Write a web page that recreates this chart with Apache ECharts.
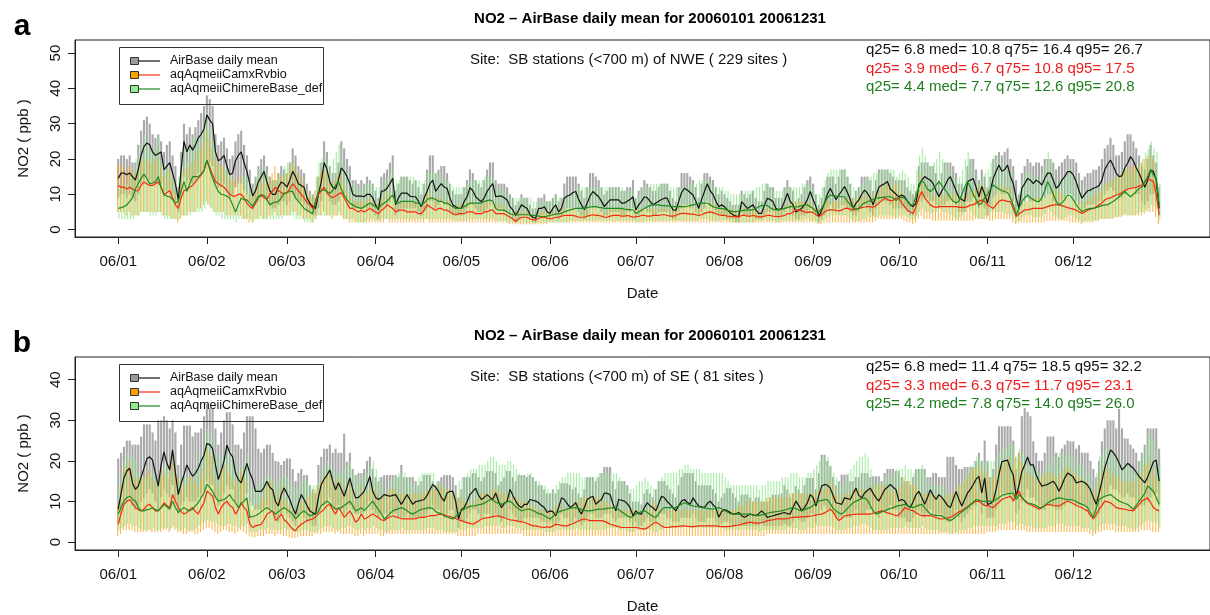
<!DOCTYPE html>
<html>
<head>
<meta charset="UTF-8">
<title>NO2 AirBase daily mean 2006</title>
<script src="https://cdn.jsdelivr.net/npm/echarts@6.0.0/dist/echarts.min.js"></script>
<style>
  html, body { margin: 0; padding: 0; background: #fff; }
  #main { width: 1210px; height: 615px; }
</style>
</head>
<body>
<div id="main"></div>
<script>
// x axis: day of year 2006 (0 = 1 Jan), ticks at the first of each month
var monthStarts = [0, 31, 59, 90, 120, 151, 181, 212, 243, 273, 304, 334];
var monthLabels = ['06/01', '06/02', '06/03', '06/04', '06/05', '06/06', '06/07', '06/08', '06/09', '06/10', '06/11', '06/12'];
var yTicksA = [0, 10, 20, 30, 40, 50];
var yTicksB = [0, 10, 20, 30, 40];

var legendNames = ['AirBase daily mean', 'aqAqmeiiCamxRvbio', 'aqAqmeiiChimereBase_def'];
var statsA = ['q25= 6.8 med= 10.8 q75= 16.4 q95= 26.7', 'q25= 3.9 med= 6.7 q75= 10.8 q95= 17.5', 'q25= 4.4 med= 7.7 q75= 12.6 q95= 20.8'];
var statsB = ['q25= 6.8 med= 11.4 q75= 18.5 q95= 32.2', 'q25= 3.3 med= 6.3 q75= 11.7 q95= 23.1', 'q25= 4.2 med= 7.8 q75= 14.0 q95= 26.0'];

// ---------- panel a : NWE (229 sites) ----------
var obsMeanA = [
  14.5,16,16,15.5,16,15,14,17,21,23.5,24.5,24,22,21,21.5,22,17,18,19,16,13,8.5,17,25,22,24,22.5,24,26,27,28.5,
  32.5,31,30,22,19.5,20,21,18,15.5,16,19.5,21,22,19,16.5,13,9.5,11,13.5,15,16.5,13.5,11,10,10,12,13.5,13,
  12,14,16.5,15,13,12.5,12,9,7.5,6.5,6,10,13.5,19,17,13.5,12,11.5,14,17.5,16.5,15,13,10,9.5,9.5,9.5,9.3,10,10,9,
  7,5.6,10.8,11,11.7,13,14.5,7,9,10.3,10.3,10.3,9.5,9.3,9.3,8,6.5,9,10.8,13,14,10.8,12,13,12,11.7,8.9,7,6.5,6,
  6,8,9.3,11.9,11,9.3,8.5,7.9,9,10.8,12,13,9.3,9.5,9.5,9,8.4,6.5,5.6,4,5.5,7,6.5,6,4.2,3.5,3.2,6,6,6.5,5,
  4.6,6,7,5,6,8.9,9.5,9.8,10.5,10.8,8.5,7,5.6,7.5,9.5,10.8,10,9.3,8,6.5,7.5,8.4,8.4,8.4,8.4,7.5,7.5,8,8.5,9.3,
  5.6,7,8,9.3,9,8,7,7.5,8,8.5,8.9,8.9,7,5.6,5.4,8,10.5,11.7,11.2,10.5,9.8,8,6,8.5,10.8,13,11,10,8,6.5,7,
  6.5,5.6,4.8,4.2,3.8,3.7,7.9,7,6,6.5,7,5.5,4.6,4.6,7,8.9,8.5,7.9,6,5.6,6,8,10.3,8,7,5,5.5,6,7,8.5,10.8,
  8.5,6.5,3.7,5.5,7.5,10,11.7,10,8.5,9.8,11,12.2,10.5,8.5,6,7.5,8.4,10,11.2,10.3,9,7,9.5,12,12.6,13,13.6,11.5,10.8,10,
  9.3,9.8,9.3,8,7,6.5,7.5,12.6,14,15,14.5,14,13,11,9.3,11,12.2,14,15,13,11,9,8.5,8,13.6,14,14.5,12,9.3,12.2,10,
  7.5,11,14.5,16.5,18.3,16.5,17,18.3,15,13,9,6,11.7,13,14.5,14,13,14,13.5,12.6,14.5,16,16,14,11.7,12.5,14,15,16.4,16.4,
  15.5,13.6,11,8.9,10,11,11.2,11.7,12,12.5,14,17,18.5,19.7,18,16,15,15.2,17.5,18.8,20.7,19.5,17.5,16,14,12,14,16.9,16.5,14,6
];
var obsHighA = [
  20,21,21,20,21,19,19,24,28,31,32,30,27,26,27,25,22,24,25,21,18,12,22,30,27,29,27,29,31,33,35,
  38,37,35,27,24,25,26,23,20,21,25,27,28,24,21,17,13,15,18,20,21,18,15,14,14,16,18,17,
  16,19,23,21,18,17,16,13,11,10,9,15,19,25,22,18,16,16,19,25,23,20,18,14,14,13,14,13,15,14,13,
  11,9,15,16,17,19,21,11,13,15,15,15,14,13,14,12,10,13,17,21,21,16,17,18,18,16,13,11,10,10,
  10,12,14,17,16,14,13,12,14,17,19,19,14,13,13,13,12,10,9,7,8,10,9,9,7,6,6,9,9,10,8,
  8,9,10,8,9,13,15,15,15,15,13,11,9,12,16,16,15,14,12,10,11,12,12,12,12,11,11,12,12,14,
  9,11,12,14,13,12,11,11,12,13,13,13,11,9,8,12,16,16,16,15,14,12,9,13,16,16,15,14,12,10,11,
  10,9,8,7,7,7,11,10,9,10,11,9,8,8,11,13,12,12,9,9,9,12,14,12,11,8,9,10,12,14,15,
  13,10,7,9,12,15,15,15,13,15,17,17,15,13,9,11,12,15,15,15,14,11,14,17,17,17,17,16,15,14,
  14,14,14,12,11,10,11,18,19,19,19,18,18,16,14,16,19,19,19,18,16,13,13,12,18,20,20,17,14,17,15,
  12,15,20,21,22,21,22,23,20,18,14,10,16,18,20,19,18,19,19,18,20,20,20,19,17,18,19,20,21,20,
  20,19,16,14,15,16,16,17,17,18,20,23,24,26,24,21,21,22,25,27,27,25,23,21,18,17,20,24,21,19,12
];
var obsLowA = [
  9,10,10,9,10,9,8,10,13,14,15,14,13,13,13,13,10,11,11,10,8,5,10,15,13,14,13,14,16,16,17,
  20,19,18,13,12,12,13,11,9,10,12,13,13,11,10,8,6,7,8,9,10,8,7,6,6,7,8,8,
  7,8,10,9,8,8,7,5,5,4,4,6,8,11,10,8,7,7,8,11,10,9,8,6,6,6,6,6,6,6,5,
  4,3,6,7,7,8,9,4,5,6,6,6,6,6,6,5,4,5,6,8,8,6,7,8,7,7,5,4,4,4,
  4,5,6,7,7,6,5,5,5,6,7,8,6,6,6,5,5,4,3,2,3,4,4,4,3,2,2,4,4,4,3,
  3,4,4,3,4,5,6,6,6,6,5,4,3,4,6,6,6,6,5,4,4,5,5,5,5,4,4,5,5,6,
  3,4,5,6,5,5,4,4,5,5,5,5,4,3,3,5,6,7,7,6,6,5,4,5,6,8,7,6,5,4,4,
  4,3,3,3,2,2,5,4,4,4,4,3,3,3,4,5,5,5,4,3,4,5,6,5,4,3,3,4,4,5,6,
  5,4,2,3,4,6,7,6,5,6,7,7,6,5,4,4,5,6,7,6,5,4,6,7,8,8,8,7,6,6,
  6,6,6,5,4,4,4,8,8,9,9,8,8,7,6,7,7,8,9,8,7,5,5,5,8,8,9,7,6,7,6,
  4,7,9,10,11,10,10,11,9,8,5,4,7,8,9,8,8,8,8,8,9,10,10,8,7,7,8,9,10,10,
  9,8,7,5,6,7,7,7,7,8,8,10,11,12,11,10,9,9,10,11,12,12,10,10,8,7,8,10,10,8,4
];
var camxMeanA = [
  12.5,12,12,11.5,12,11.5,11,11,12.5,13.5,13,12.5,12.5,13,13.5,12,9.8,10.5,11,9,7,6,9,11,11.5,12,12.5,13.5,14.5,15.5,16.7,
  19.7,17.6,15.5,13.6,13,12.5,12,11,10,9.5,9.5,10,10,9,7.4,6.5,6,7.5,9,10,9,8.5,10,11,12,11,10.5,10,
  10.5,11.5,13,12,11,10,9,7.7,7,6,7.5,10,11,12,10.5,9.5,9,9.5,10,10.5,9,7.5,6,6,5.5,5,5.5,5,5.5,6,5.5,
  5,4.5,5.5,6,7,6.5,6,5,5.5,5.5,5.5,5,5,5,5,4.5,4.5,5.5,7,6.5,6,5.5,6,6,5.5,5.5,5,4.5,4.2,4.5,
  4.5,4.5,5,5,5,4.5,4.5,4.5,5,5,5.5,5.5,4.5,4.5,4.5,4.5,4,3.5,3,2.3,3,3.5,3.5,3.5,3,2.8,2.7,3.2,3.5,3.5,3.2,
  3,3.2,3.5,3.5,3.8,4,4,4,4,3.8,3.5,3.5,3.5,3.8,4,4.2,4,4,3.8,3.5,3.5,3.8,4,4,4,3.8,3.8,4,3.8,3.5,
  3.7,3.7,4,4,3.8,3.8,4,4,4,4.2,4.2,4,3.8,3.8,4,4.4,4.6,4.6,4.5,4.4,4.4,4.2,4,4.2,4.6,4.8,5,4.8,4.5,4.2,4,
  4,3.8,3.7,3.7,3.6,3.6,4,4,3.8,3.8,4,3.8,3.6,3.6,3.8,4,4,3.8,3.7,3.7,3.8,4,4.5,4.5,5,5.5,5.6,5.3,5,4.8,5,
  4.8,4.2,3.7,4.2,5,5.5,5.6,5.6,5.4,5.3,5.5,6,6,5.8,5.5,5.8,6,6.2,6.4,6.5,6.5,6.3,6.8,7.5,8.2,8.9,8.5,8.2,8.3,8.9,
  8.9,7.5,6.5,5.5,5,4.6,6.5,9,10.8,9,8,7,6.5,6.3,6.5,6.5,6.5,6.5,6.5,6.5,6.5,6.3,6.3,6.3,6.5,7,7,7.5,8,8.4,8,
  7,6.5,6,7,8,8.4,8.2,8,7.9,6,3.7,4.5,5,5.6,5.6,5.8,6,6,6,6,6.2,6.5,6.8,7,7,7,6.8,6.5,6.2,6,
  5.8,5.5,5,4.6,5,5.5,5.8,6,6.5,7,7.5,8.4,8.8,9,9.4,9.8,10,10.5,11,11.5,11.7,11.8,12,12.3,12.6,13.5,14.5,14,13.6,10,4.2
];
var camxHighA = [
  19,18,18,17,18,17,16,16,19,20,20,19,19,20,20,18,15,16,17,14,11,9,14,17,17,18,19,20,22,23,25,
  28,26,23,20,19,18,18,16,15,14,14,15,15,13,11,10,9,11,13,15,13,13,15,16,18,16,15,15,
  16,17,19,18,16,15,13,11,10,9,11,15,16,18,16,14,13,14,15,16,13,11,9,9,8,8,8,8,8,9,8,
  8,7,8,9,11,10,9,8,8,8,8,8,8,8,8,7,7,8,11,10,9,8,9,9,8,8,8,7,6,7,
  7,7,8,8,8,7,7,7,8,8,8,8,7,7,7,7,6,5,5,4,5,5,5,5,5,4,4,5,5,5,5,
  5,5,5,5,6,6,6,6,6,6,5,5,5,6,6,6,6,6,6,5,5,6,6,6,6,6,6,6,6,5,
  6,6,6,6,6,6,6,6,6,6,6,6,6,6,6,7,7,7,7,7,7,6,6,6,7,7,8,7,7,6,6,
  6,6,6,6,5,5,6,6,6,6,6,6,5,5,6,6,6,6,6,6,6,6,7,7,8,8,8,8,8,7,8,
  7,6,6,6,8,8,8,8,8,8,8,9,9,9,8,9,9,9,10,10,10,9,10,11,12,13,13,12,12,13,
  13,11,10,8,8,7,10,13,16,13,12,11,10,9,10,10,10,10,10,10,10,9,9,9,10,11,11,11,12,13,12,
  11,10,9,11,12,13,12,12,12,9,6,7,8,8,8,9,9,9,9,9,9,10,10,11,11,11,10,10,9,9,
  9,8,8,7,8,8,9,9,10,11,11,13,13,14,14,15,15,16,17,17,18,18,18,18,19,20,21,21,20,15,7
];
var camxLowA = [
  5,5,5,4,5,4,4,4,5,5,5,5,5,5,5,5,4,4,4,3,3,2,3,4,4,5,5,5,6,6,7,
  8,7,6,5,5,5,5,4,4,4,4,4,4,3,3,2,2,3,3,4,3,3,4,4,5,4,4,4,
  4,4,5,5,4,4,3,3,3,2,3,4,4,5,4,4,3,4,4,4,3,3,2,2,2,2,2,2,2,2,2,
  2,2,2,2,3,2,2,2,2,2,2,2,2,2,2,2,2,2,3,2,2,2,2,2,2,2,2,2,2,2,
  2,2,2,2,2,2,2,2,2,2,2,2,2,2,2,2,2,1.5,1.5,1.5,1.5,1.5,1.5,1.5,1.5,1.5,1.5,1.5,1.5,1.5,1.5,
  2,2,2,2,2,2,2,2,2,2,2,2,2,2,2,2,2,2,2,2,2,2,2,2,2,2,2,2,2,2,
  2,2,2,2,2,2,2,2,2,2,2,2,2,2,2,2,2,2,2,2,2,2,2,2,2,2,2,2,2,2,2,
  2,2,2,2,2,2,2,2,2,2,2,2,2,2,2,2,2,2,2,2,2,2,2,2,2,2,2,2,2,2,2,
  2,2,1.5,1.5,2,2,2,2,2,2,2,2,2,2,2,2,2,2,2,2,2,2,2.5,3,3,3,3,3,3,3,
  3,3,2.5,2,2,1.5,2,3,4,3,3,3,2.5,2.5,2.5,2.5,2.5,2.5,2.5,2.5,2.5,2.5,2.5,2.5,2.5,2.5,2.5,3,3,3,3,
  3,2.5,2.5,3,3,3,3,3,3,2,1.5,2,2,2,2,2,2,2,2,2,2,2.5,2.5,2.5,2.5,2.5,2.5,2.5,2.5,2,
  2,2,2,1.5,2,2,2,2,2.5,2.5,3,3,3,3,3,3.5,3.5,3.5,4,4,4,4,4,4,4,4.5,5,5,5,3.5,1.5
];
var chimMeanA = [
  6,6.2,6.5,7,8,9,11.5,13,14.5,15.7,14.5,13,13.2,13.5,15,12,9.8,9.5,9.3,8.5,7.5,8,11,13.6,10.8,13,15,15,15,15.8,16.7,
  19.7,17,14.5,12.5,10.8,10,9.8,9.5,8.9,7,5,7,8.9,8.5,8.4,7.5,6.5,8,9.4,9.6,9.8,8.5,7,7.5,7.8,7.9,9,10.3,
  10.5,10.8,10.8,8.9,8,7,6,5.5,5,4.5,8,10.8,11,11.3,10.8,10.3,11,12.5,13.6,11.5,9.8,8.5,7.5,7,6.5,6.2,6,6.5,7,7.5,7,
  6.5,6,7,7.5,8,9,9.8,7.5,7.5,8,8,8,8,8,7.5,7.5,7,7.5,8.5,8.9,8.9,8.5,8,8,7.5,7.5,7,6.5,6,6,
  6,6.5,7,7.5,7.5,7.5,7.5,7.5,8,8.2,8.4,8,6,5.5,5.5,5.5,5,4.5,4.2,4.2,4.2,4.2,4.2,4.2,4.2,4,4,3.8,3.7,3.7,3.8,
  4,4.2,4.4,4.5,4.6,5,5.3,5.6,5.8,6,6,6,6,6.2,6.4,6.5,6.5,6.3,6.2,6,6,6,6,6,6,6,5.8,5.7,5.6,5.6,
  4.6,5,5.5,6,6.5,6.8,7,7,7,6.8,6.8,6.7,6.6,6.5,6.5,6.5,6.5,6.5,6.6,6.8,7,7.2,7.4,7.5,7.5,7.5,7,6.5,6.2,6,6,
  5.8,5.5,5.3,5.1,5.1,5.2,5.3,5.5,5.5,5.6,5.6,6,6.5,6.8,7,6.8,6.2,5.8,5.6,5.6,5.8,6,6.2,6.5,6.5,6.4,6.5,6.8,7,7,6.5,
  6,5,5,6,7.5,9,9.8,9.6,9.5,9.4,9.3,9.3,8,7,6.2,5.6,6,7,7.5,7.9,8.2,8.5,8.9,9,9.1,9.2,9.3,9.3,9,8.2,
  9,9.2,8.9,8,7,7,9.5,12,14,13,11.5,10.8,11.5,12.5,13.6,12.5,11.5,10.3,9,8,7.5,8,10,12,13.6,12,10,8.5,7,7.5,9,
  10,11.5,12.6,12,11.5,11,10.8,10.5,9,7,4.2,6,8,9,9.8,9,8.5,8,7.9,9,11,13.6,12,10,8,7,7.5,8.5,9.8,9.5,
  8.5,7,6,5.1,5.5,5.8,6,6,6.2,6.5,6.8,7,7,7.5,8,8.6,9.3,10,10.8,10,9.3,10,10.8,11.7,12,13.5,15,16.9,15.5,14.5,7
];
var chimHighA = [
  12,12,12,13,15,16,20,22,25,27,25,22,23,23,26,21,18,17,17,16,14,15,20,24,19,23,26,26,26,27,29,
  33,29,25,22,19,18,18,17,16,13,10,13,16,15,15,14,12,15,17,17,18,16,13,14,14,15,16,18,
  19,19,19,16,15,13,12,11,10,9,15,19,20,20,19,18,20,22,24,20,18,16,14,13,12,12,12,12,13,14,13,
  12,12,13,14,15,16,18,14,14,15,15,15,15,15,14,14,13,14,16,16,16,16,15,15,14,14,13,12,12,12,
  12,12,13,14,14,14,14,14,15,15,15,15,12,11,11,11,10,9,9,9,9,9,9,9,9,8,8,8,8,8,8,
  8,9,9,9,9,10,10,11,11,12,12,12,12,12,12,12,12,12,12,12,12,12,12,12,12,12,11,11,11,11,
  9,10,11,12,12,13,13,13,13,13,13,13,12,12,12,12,12,12,12,13,13,13,14,14,14,14,13,12,12,12,12,
  11,11,10,10,10,10,10,11,11,11,11,12,12,13,13,13,12,11,11,11,11,12,12,12,12,12,12,13,13,13,12,
  12,10,10,12,14,16,17,17,17,17,17,17,15,13,12,11,12,13,14,15,15,16,16,16,17,17,17,17,17,15,
  16,17,16,15,13,13,17,21,23,21,19,18,19,20,22,20,19,17,16,15,14,15,17,20,22,20,17,15,13,14,16,
  17,19,21,20,19,19,18,18,16,13,9,11,14,16,17,16,15,15,14,16,18,22,20,17,14,13,14,15,17,17,
  15,13,11,10,11,11,12,12,12,12,13,13,13,14,15,15,16,17,18,17,16,17,18,19,20,22,23,25,23,22,13
];
var chimLowA = [
  3,3,3,3,3,3,4,4,5,5,5,4,4,4,5,4,3,3,3,3,3,3,4,4,4,4,5,5,5,5,6,
  7,6,5,4,4,3,3,3,3,3,2,3,3,3,3,3,2,3,3,3,3,3,3,3,3,3,3,4,
  4,4,4,3,3,3,2,2,2,2,3,4,4,4,4,4,4,4,5,4,3,3,3,3,2,2,2,2,3,3,3,
  2.5,2.5,3,3,3,3,3,3,3,3,3,3,3,3,3,3,3,3,3,3,3,3,3,3,3,3,3,2.5,2.5,2.5,
  2.5,2.5,3,3,3,3,3,3,3,3,3,3,2.5,2.5,2.5,2.5,2,2,2,2,2,2,2,2,2,2,2,2,2,2,2,
  2,2,2,2,2,2,2,2.5,2.5,2.5,2.5,2.5,2.5,2.5,2.5,2.5,2.5,2.5,2.5,2.5,2.5,2.5,2.5,2.5,2.5,2.5,2.5,2.5,2.5,2.5,
  2,2,2,2.5,2.5,2.5,2.5,2.5,2.5,2.5,2.5,2.5,2.5,2.5,2.5,2.5,2.5,2.5,2.5,2.5,2.5,2.5,3,3,3,3,2.5,2.5,2.5,2.5,2.5,
  2.5,2.5,2,2,2,2,2,2,2,2,2,2.5,2.5,2.5,3,2.5,2.5,2.5,2,2,2.5,2.5,2.5,2.5,2.5,2.5,2.5,2.5,3,3,2.5,
  2.5,2,2,2.5,3,3.5,4,4,4,4,4,4,3.5,3,2.5,2.5,2.5,3,3,3.5,3.5,3.5,3.5,4,4,4,4,4,4,3.5,
  4,4,4,3.5,3,3,4,5,6,5,5,4.5,5,5,6,5,5,4.5,4,3.5,3,3.5,4,5,6,5,4,3.5,3,3,4,
  4,5,5,5,5,5,4.5,4.5,4,3,2,2.5,3.5,4,4,4,3.5,3.5,3.5,4,4.5,6,5,4,3.5,3,3,3.5,4,4,
  3.5,3,2.5,2,2.5,2.5,2.5,2.5,2.5,3,3,3,3,3,3.5,3.5,4,4,4.5,4,4,4,4.5,5,5,5.5,6,7,6.5,6,3
];

// ---------- panel b : SE (81 sites) ----------
var obsMeanB = [
  8.1,12,15.8,17.5,18.2,14.5,13,13.8,16,18.2,20.5,21,20.2,17,13.8,19,22.2,19.5,17.8,22.7,17,11.7,14.5,16.6,19,17.5,16.2,17,18.2,20,21.4,
  24.3,24,23,19,15.4,17.5,20,23.9,22,21,17,15.4,14.6,17,19.4,17,15.4,12.5,12.5,12.5,13.5,15,13.5,12.9,10,8.9,11.7,13.3,
  12,10.5,8.5,6.9,9.5,11.7,10.5,9,7.7,7.2,6.9,11,14.2,15.5,16.5,17.8,15,12.9,14.6,13,11.3,13.5,15.8,13,10.9,11,11.7,12.5,14.2,16.2,12.5,
  11,10.5,11,11.7,11.5,11.3,11.5,11.7,10.5,9.3,10.5,11.7,10.5,9.3,10,10.1,10.3,10.5,11.5,12.9,14.2,13.5,12.5,11,10.1,12.1,12.5,12.5,10.1,5.7,
  8,8.5,10,11.7,12.5,13.3,11.5,10.5,11,11.7,11,10.5,12.1,10,8.5,9.5,10.1,13,11.5,10.1,9,8.5,9.3,9.3,10.5,10.3,10.1,9.7,9,8.5,7.3,
  7.7,7.5,6.5,8.5,10.9,10.5,9.5,8.5,9,9.7,8,6.9,8.5,10.5,11,11.3,9.3,10,10.5,12.1,12,11.7,9.5,7.7,10.5,10.3,10.1,9.5,8.5,6.5,
  7.7,7,6.9,8.5,9.7,8.9,8.5,7.7,9.5,11.3,10.9,10,9.3,8.5,7.7,9,10.1,10.5,9.8,9.3,10.9,9.8,8.9,8.7,8.5,9.5,10.1,9.2,8.5,6.1,7.5,
  8,7.7,7.3,6.9,7,7.3,6.5,6.1,6.5,6.9,6.7,6.5,7,7.7,7,6.1,6.3,6.5,6.7,6.9,7.1,7.3,7,6.9,8.5,10.1,9,7.7,8.5,9.7,11.7,
  11,8.9,11.5,13.8,14.2,14,13.3,11.5,9.7,9.5,9.3,10.9,10.7,10.5,12,13.3,11.5,10.9,12.1,12.7,13.3,12,10.9,10.1,11.5,12.9,13.5,14.2,13.5,12.9,
  10.1,10.5,10.1,9,8.5,10,11.7,12.5,11,9.3,11,12.9,11.5,10.5,11.7,11,10.1,9,8.5,10.5,12.5,10.5,8.9,10.5,12.1,13,14.2,15.5,16.2,12.1,15.8,
  9.3,9.5,10.1,13,16.6,19.8,20,20.2,18,16.6,11.3,14,17.4,19,21,19,19,16.6,15,13.8,14,14.2,14.6,15,14,12.5,14,15.8,17,16.6,
  16,14.6,14.8,15,14.6,14,12.9,11,9.3,12,15,18.2,20.5,22.7,22,21,19.5,17.8,18.5,19.4,18.8,18.2,17.2,16.2,15.4,14.6,16,17.8,19.8,20.2,15
];
var obsHighB = [
  20.6,22,23.5,25,25,24,24,24,26,29,29,29,27,25,30,30,31,30,28,30,27,19,24,28.7,28.7,28.7,26,27,27,28,31,
  34,33,33,28,24,27,30,32,32,29,24,24,23,27,31,31,31,28,23,22,23,24,24,22,20,19.8,19,20,
  20.6,20.6,18,15,17,18,16.5,16.5,14,13,12,19,21,23,23,24,22,23,22,22,26.7,19.8,22,18,16.5,17,17,18,20,21,18,
  16,15,16,16.5,16.5,16.5,16.5,16.5,16,19,16,16,16,16,15,14,15,16.5,16.5,16.5,15,14,15,16,16.5,16.5,16.5,16,14,11,
  13,16,16,16,17,17,16,15,16,17.5,17.5,17.5,17,14,15,16,17.5,17.5,16,15,16.5,16.5,16.5,16,16.5,16,15,14,14,13,12,
  12,13,12,13,14.5,14.5,14.5,14,13,13.5,12,11,13,16,16,16,15,16,17,18.5,18.5,18.5,15,13,15,15,15,14,12,10,
  10,10,9.3,12,13,12,11,13,15,15,15,14,13,12,11,14,16,17,17,17,17,15,14,14,14,14,14,13,12,10,11,
  12,13.3,13.3,12,11,10,11.7,11.7,11.7,11,10,11,11,10,10,10,11,11.7,11.7,11.7,12,14,13,11,12,13.8,13,12,14,15.8,15.8,
  15.8,13,17,21.5,21.5,20,18.6,16,14,15,16.6,16.6,16.6,15,15,16,16,17,17,17,16,16.2,16.2,16.2,15,17,18,18,18,17.5,
  17.5,16,15,15,14,16,18,18,18,18,16,16,17,17,16,16,16,21,21,21,19,18,18,18.5,18.5,18.5,18.5,20,22,20,25,
  20,16,18,24,28.5,28.5,28.5,28.5,28.5,25,18,22,31,33,32,31,24.8,22,20,20,22,26,26,26,22,21,23,24,25,24.8,
  24.8,23,23.9,22,22,22,20,18,16,20,24.8,28,30,30,30,28,32.8,28,25.5,25.5,24,23,22,20,22,24,28,28,28,28,23
];
var obsLowB = [
  5,7,9,10,11,9,8,8,10,11,12,13,12,10,8,11,13,12,11,14,10,7,9,10,11,10,10,10,11,12,13,
  15,14,14,11,9,10,12,14,13,13,10,9,9,10,12,10,9,8,8,8,8,9,8,8,6,5,7,8,
  7,6,5,4,6,7,6,5,5,4,4,7,9,9,10,11,9,8,9,8,7,8,9,8,7,7,7,8,9,10,8,
  7,6,7,7,7,7,7,7,6,6,6,7,6,6,6,6,6,6,7,8,9,8,8,7,6,7,8,8,6,3.5,
  5,5,6,7,8,8,7,6,7,7,7,6,7,6,5,6,6,8,7,6,5,5,6,6,6,6,6,6,5,5,4.5,
  5,4.5,4,5,7,6,6,5,5,6,5,4,5,6,7,7,6,6,6,7,7,7,6,5,6,6,6,6,5,4,
  5,4,4,5,6,5,5,5,6,7,7,6,6,5,5,5,6,6,6,6,7,6,5,5,5,6,6,6,5,4,4.5,
  5,5,4.5,4,4,4.5,4,4,4,4,4,4,4,5,4,4,4,4,4,4,4,4.5,4,4,5,6,5.5,5,5,6,7,
  7,5,7,8,9,8,8,7,6,6,6,7,6,6,7,8,7,7,7,8,8,7,7,6,7,8,8,9,8,8,
  6,6,6,5,5,6,7,8,7,6,7,8,7,6,7,7,6,5,5,6,8,6,5,6,7,8,9,9,10,7,9,
  6,6,6,8,10,12,12,12,11,10,7,8,10,11,13,11,11,10,9,8,8,9,9,9,8,8,8,9,10,10,
  10,9,9,9,9,8,8,7,6,7,9,11,12,14,13,13,12,11,11,12,11,11,10,10,9,9,10,11,12,12,9
];
var camxMeanB = [
  4.4,7,9.3,10,10.5,9.5,8.5,8,7.7,8.1,9,9.3,8.5,7.7,7.7,8.5,9.7,9,8.5,11.7,10,8.5,7.5,6.9,7.3,8,8.5,7.5,6.9,8.5,9.7,
  12.5,12,11.3,8.5,6.9,8.5,9.5,10.1,9,8.5,6.9,8,9.7,8.5,7.7,4.5,3.6,4,4.2,4.4,5.5,6.9,7.3,7.7,5.3,6,6.9,5.5,
  4.9,4,3.2,2.8,3.8,4.4,4.8,5.3,5.5,5.7,6.2,6.9,7.5,8.1,9,9.3,8,6.9,8.5,7.5,6.1,6.9,7.7,6.5,4.9,5.5,6.9,5.7,6,6.5,6.9,
  6.5,6,5.5,5.3,5.8,6.2,6.5,6.2,6,5.8,5.7,5.7,5.7,5.7,5.8,6,6.1,6.1,6.3,6.5,6.5,6.6,6.8,6.9,6.7,6.5,6.3,6.1,5.8,5.5,
  5.3,5,4.8,4.6,4.4,4.8,5.2,5.7,5.9,6,6.1,6.3,6.4,6.5,6.2,6,5.7,5.5,5.4,5.3,5.1,5,4.9,4.6,4.3,4,4,3.8,3.7,3.6,3.8,
  3.6,4,4.4,4.3,4.1,4,4,4.3,4.6,4.9,5.2,5.5,5.7,5.5,5.3,5.3,5.3,5.3,5.3,5.1,4.8,4.4,4.2,4,3.8,3.6,3.6,3.6,3.6,3.6,
  3.6,3.5,3.3,3.2,3.5,4,4.6,4.9,4.5,4,3.6,3.6,3.7,3.8,3.8,3.9,4,4,3.9,3.8,3.8,3.9,4,4,4,4,4,4,4,3.9,3.8,
  3.8,3.8,3.9,4,4.1,4.2,4.4,4.6,4.8,4.9,4.8,4.7,4.7,4.8,5,5.3,5.4,5.5,5.7,5.7,5.7,5.7,5.8,6,6.1,6.1,6.2,6.2,6.3,6.3,6.4,
  6.5,6.7,6.8,6.9,7.2,7.6,8.1,7.5,6.2,5.3,5.8,6.5,6.6,6.7,6.8,6.9,6.9,6.9,6.9,6.9,6.9,7.1,7.3,7.5,7.7,7.5,7.2,7,6.8,6.5,
  6.7,7.5,8.5,8.2,7.9,7.7,7.2,6.8,6.5,6.5,6.5,6.5,6.3,6,5.8,5.7,5.8,6,6.1,6.5,7,7.5,7.7,8.2,8.7,9.3,9.7,10,10.1,9.5,9,
  9,8.7,8.5,9.2,9.8,10.5,10.8,11,11.3,10.1,11.5,12.5,11,10.1,9.5,9.2,8.9,8.5,8.1,8.5,9,9.3,9.2,9,8.9,8.9,9.3,9.7,10.1,9.8,
  9.5,9,8.7,8.5,8,7.7,6.5,5.7,6.8,8.1,9,10.1,9.9,9.7,9.1,8.5,8.3,8.2,8.1,7.9,7.8,7.7,8.5,9.3,10.1,10.5,10.9,9.8,8.5,8,7.7
];
var camxHighB = [
  9,14,18,19,20,18,16,16,15,16,17,18,16,15,15,16,18,17,16,22,19,16,15,14,14,16,16,15,14,16,18,
  23,22,21,16,14,16,18,19,17,16,14,16,18,16,15,10,8,9,9,10,11,14,15,15,11,12,14,11,
  10,9,8,7,8,10,10,11,11,12,13,14,15,16,17,17,16,14,16,15,12,14,15,13,10,11,14,12,12,13,14,
  13,12,11,11,12,13,13,13,12,12,12,12,12,12,12,12,12,12,13,13,13,13,14,14,13,13,13,12,12,11,
  11,10,10,10,9,10,11,12,12,12,12,13,13,13,12,12,12,11,11,11,11,10,10,10,9,9,9,8,8,8,8,
  8,8,9,9,9,8,8,9,9,10,10,11,11,11,11,11,11,11,11,10,10,9,9,8,8,8,8,8,8,8,
  8,8,7,7,8,8,9,10,9,8,8,8,8,8,8,8,8,8,8,8,8,8,8,8,8,8,8,8,8,8,8,
  8,8,8,8,8,9,9,9,10,10,10,10,10,10,10,11,11,11,11,11,11,11,11,12,12,12,12,12,12,12,12,
  12,12,13,13,13,14,15,14,12,11,11,12,12,12,13,13,13,13,13,13,13,13,14,14,14,14,14,13,13,12,
  13,14,16,15,15,14,14,13,12,12,12,12,12,12,11,11,11,12,12,12,13,14,14,15,16,17,18,18,19,18,17,
  17,16,16,17,18,19,20,20,21,19,21,22,20,19,17,17,16,16,15,16,17,17,17,17,16,16,17,18,19,18,
  17,17,16,16,15,15,13,11,13,15,17,19,18,18,17,16,16,15,15,15,15,15,15,16,17,19,19,20,18,16,15
];
var camxLowB = [
  1.5,2,3,3,3,3,2.5,2.5,2.5,2.5,2.5,3,2.5,2.5,2.5,2.5,3,3,2.5,3.5,3,2.5,2.5,2,2,2.5,2.5,2,2,2.5,3,
  3.5,3.5,3,2.5,2,2.5,3,3,2.5,2.5,2,2.5,3,2.5,2,1.5,1.2,1.2,1.5,1.5,1.5,2,2,2,1.5,2,2,1.5,
  1.5,1.2,1,1,1.2,1.5,1.5,1.5,1.5,1.5,2,2,2,2.5,2.5,2.5,2.5,2,2.5,2,2,2,2,2,1.5,1.5,2,1.5,2,2,2,
  2,2,1.5,1.5,2,2,2,2,2,2,2,2,2,2,2,2,2,2,2,2,2,2,2,2,2,2,2,2,2,1.5,
  1.5,1.5,1.5,1.5,1.5,1.5,2,2,2,2,2,2,2,2,2,2,2,2,2,2,2,2,1.5,1.5,1.5,1.5,1.5,1.5,1.5,1.5,1.5,
  1.5,1.5,1.5,1.5,1.5,1.5,1.5,1.5,1.5,1.5,1.5,1.5,1.5,1.5,1.5,1.5,1.5,1.5,1.5,1.5,1.5,1.5,1.5,1.5,1.5,1.5,1.5,1.5,1.5,1.5,
  1.5,1.5,1.5,1.5,1.5,1.5,1.5,1.5,1.5,1.5,1.5,1.5,1.5,1.5,1.5,1.5,1.5,1.5,1.5,1.5,1.5,1.5,1.5,1.5,1.5,1.5,1.5,1.5,1.5,1.5,1.5,
  1.5,1.5,1.5,1.5,1.5,1.5,1.5,1.5,1.5,1.5,1.5,1.5,1.5,1.5,1.5,2,2,2,2,2,2,2,2,2,2,2,2,2,2,2,2,
  2,2,2,2,2,2,2,2,2,2,2,2,2,2,2,2,2,2,2,2,2,2,2,2,2,2,2,2,2,2,
  2,2,2,2,2,2,2,2,2,2,2,2,2,2,2,2,2,2,2,2,2,2,2,2,2,2,2,2,2,2,2,
  2.5,2.5,2.5,2.5,3,3,3,3,3,3,3,3,3,3,2.5,2.5,2.5,2.5,2.5,2.5,2.5,2.5,2.5,2.5,2.5,2.5,2.5,2.5,2.5,2.5,
  2.5,2.5,2.5,2.5,2.5,2.5,2,1.5,2,2.5,2.5,3,3,3,3,2.5,2.5,2.5,2.5,2.5,2.5,2.5,2.5,2.5,3,3,3,3,2.5,2.5,2.5
];
var chimMeanB = [
  6.9,8.5,10.1,11,11.3,10.5,10.1,8.5,7.7,7.7,8,8.1,8.5,8,7.7,8.5,9.3,8.7,8.1,10.1,8.5,7.3,8,8.5,8,7.7,8.1,9,9.7,11,12.1,
  14.2,13.5,12.5,11,10.1,10.3,10.5,11,11.7,10.5,9.7,8.5,9.5,10.1,10.9,6.1,6.3,6.5,6.9,7.5,8,8.5,8,7.5,6.9,7.5,8,8.5,
  8,7.5,6.9,5.7,6.5,7.2,7.7,7,6.5,6.7,6.9,7.5,9,9.5,10.1,9.5,8.8,8.1,8.3,8.5,9,9.5,10.1,9,7.7,8,8.5,7.7,8.5,9.3,10.1,
  9,8,7,5.7,6.3,7,7.7,8,8.2,8.5,8.2,7.7,7.2,6.9,7.3,7.7,8.1,8.2,8.4,8.5,8.3,7.5,7.2,6.9,6.5,6.2,5.9,5.7,6.3,7,
  7.7,8.1,8.5,8.8,8.9,9,9.2,9.3,9.6,10,10.5,10.3,9.8,9.5,9.3,9.6,9.9,10.1,9.5,8.7,8.2,7.7,7.9,8.1,8.1,7.8,7.4,7,6.9,6.5,6.1,
  5.7,6.3,6.9,7.4,7.7,7.9,8.1,8.3,8.4,8.5,8.3,8,7.8,7.7,7.7,7.8,8,8.1,8.1,8.2,8.3,8.4,8.5,8.4,8,7.5,7,6.5,6.1,6.3,
  6.9,7.2,7.5,7.7,7.3,6.8,6.3,6.1,7,8,8.5,8.5,8.5,8.5,8.5,9,9.3,9.7,9.4,9.1,8.9,8.8,8.7,8.5,8.4,8.3,8.2,8.1,8.3,8.5,8.2,
  7.8,7.4,7,6.9,6.9,6.9,6.9,6.9,6.9,6.9,6.7,6.6,6.5,6.7,6.9,7.1,7.3,7.4,7.5,7.6,7.7,7.9,8.1,8.3,8.5,8.2,7.9,7.7,8,8.3,8.5,
  9,9.5,10.1,10.3,10.4,10.5,9.5,8.3,7.7,7.2,6.9,7.5,8.3,9,9.7,10.1,10.4,10.7,10.9,10.3,9,7.7,6.9,7.2,7.5,7.7,8,8.3,8.5,8.8,
  9,9.1,9.3,9,8.7,8.5,8.8,9.1,9.3,8.5,7.7,6.9,6.7,6.6,6.5,6.5,6,5.6,5.3,5.7,6.3,6.9,7.5,8,8.5,9.2,9.8,10.5,10.3,10.1,10,
  10,10.1,10.1,10.5,11,11.5,11.7,11.9,12,12.1,10.5,11.7,11,10.3,9.7,9.5,9.3,9,8.5,8.5,9,9.6,10.1,10.4,10.7,10.9,10.8,10.6,10.5,10.5,
  10.3,10,9.6,9.3,9,8.5,7.3,6.1,8.3,10.5,10.9,11.3,11.5,11.7,11.2,10.6,10.1,9.8,9.5,9.3,8.7,8.1,9.1,10.1,11,12,13.8,13.2,12.5,11,9.3
];
var chimHighB = [
  14,17,20,22,22,21,20,17,16,16,16,17,17,16,16,17,19,18,17,20,17,15,16,17,16,16,17,18,20,22,24,
  28,26,25,22,20,21,21,22,23,21,19,17,19,20,22,13,13,14,14,15,16,17,16,15,14,15,16,17,
  16,15,14,12,13,15,16,15,14,14,14,15,18,19,20,19,18,17,17,17,18,19,20,18,16,16,17,16,17,19,20,
  18,16,15,12,13,15,16,16,17,17,17,16,15,14,15,16,17,17,17,17,17,15,15,14,14,13,13,12,13,15,
  16,16,17,18,18,18,19,19,19,20,21,21,20,19,19,19,20,20,19,18,17,16,16,17,17,16,15,15,14,14,13,
  12,13,14,15,16,16,17,17,17,17,17,16,16,16,16,16,16,17,17,17,17,17,17,17,16,15,14,14,13,13,
  14,15,15,16,15,14,13,13,15,16,17,17,17,17,17,18,18,19,19,18,18,18,18,17,17,17,17,17,17,17,17,
  16,15,14,14,14,14,14,14,14,14,14,14,13,14,14,15,15,15,15,15,16,16,16,17,17,17,16,16,16,17,17,
  18,19,20,21,21,21,19,17,16,15,14,15,17,18,19,20,21,21,22,21,18,16,14,15,15,16,16,17,17,18,
  18,18,19,18,18,17,18,18,19,17,16,14,14,14,14,14,13,12,12,12,13,14,15,16,17,19,20,21,21,20,20,
  20,20,20,21,22,23,23,24,24,24,21,23,22,21,19,19,19,18,17,17,18,19,20,21,21,22,22,21,21,21,
  21,20,19,19,18,17,15,13,17,21,22,23,23,23,22,21,20,20,19,19,18,17,18,20,22,24,27,26,25,22,19
];
var chimLowB = [
  3,3.5,4,4.5,4.5,4,4,3.5,3,3,3,3,3.5,3,3,3.5,3.5,3.5,3,4,3.5,3,3,3.5,3,3,3,3.5,4,4.5,5,
  5.5,5,5,4.5,4,4,4,4.5,4.5,4,4,3.5,4,4,4.5,2.5,2.5,2.5,3,3,3,3.5,3,3,3,3,3,3.5,
  3,3,2.5,2.5,2.5,3,3,3,2.5,2.5,2.5,3,3.5,4,4,4,3.5,3,3,3.5,3.5,4,4,3.5,3,3,3.5,3,3.5,3.5,4,
  3.5,3,3,2.5,2.5,3,3,3,3,3.5,3,3,3,3,3,3,3,3,3.5,3.5,3.5,3,3,3,2.5,2.5,2.5,2.5,2.5,3,
  3,3,3.5,3.5,3.5,3.5,3.5,3.5,4,4,4,4,4,4,3.5,3.5,4,4,4,3.5,3.5,3,3,3,3,3,3,3,3,2.5,2.5,
  2.5,2.5,3,3,3,3,3,3,3,3.5,3,3,3,3,3,3,3,3,3,3,3.5,3.5,3.5,3.5,3,3,3,2.5,2.5,2.5,
  3,3,3,3,3,3,2.5,2.5,3,3,3.5,3.5,3.5,3.5,3.5,3.5,3.5,4,4,3.5,3.5,3.5,3.5,3.5,3.5,3.5,3.5,3.5,3.5,3.5,3.5,
  3,3,3,3,3,3,3,3,3,3,3,3,2.5,3,3,3,3,3,3,3,3,3,3.5,3.5,3.5,3.5,3,3,3,3.5,3.5,
  3.5,4,4,4,4,4,4,3.5,3,3,3,3,3.5,3.5,4,4,4,4.5,4.5,4,3.5,3,3,3,3,3,3,3.5,3.5,3.5,
  3.5,3.5,4,3.5,3.5,3.5,3.5,3.5,4,3.5,3,3,3,3,2.5,2.5,2.5,2.5,2,2.5,2.5,3,3,3,3.5,3.5,4,4,4,4,4,
  4,4,4,4,4.5,4.5,4.5,5,5,5,4,4.5,4.5,4,4,4,3.5,3.5,3.5,3.5,3.5,4,4,4,4.5,4.5,4.5,4,4,4,
  4,4,4,3.5,3.5,3.5,3,2.5,3,4,4.5,4.5,4.5,4.5,4.5,4,4,4,4,3.5,3.5,3,3.5,4,4.5,5,5.5,5,5,4.5,3.5
];

// sanity check: one value per day
var allSeries = {obsMeanA: obsMeanA, obsHighA: obsHighA, obsLowA: obsLowA, camxMeanA: camxMeanA, camxHighA: camxHighA,
  camxLowA: camxLowA, chimMeanA: chimMeanA, chimHighA: chimHighA, chimLowA: chimLowA, obsMeanB: obsMeanB,
  obsHighB: obsHighB, obsLowB: obsLowB, camxMeanB: camxMeanB, camxHighB: camxHighB, camxLowB: camxLowB,
  chimMeanB: chimMeanB, chimHighB: chimHighB, chimLowB: chimLowB};
var bad = [];
for (var k in allSeries) { if (allSeries[k].length !== 365) bad.push(k + '=' + allSeries[k].length); }
if (bad.length) throw new Error('wrong lengths: ' + bad.join(', '));

var FONT = '"Liberation Sans", Arial, Helvetica, sans-serif';
var GRAY = '#a9a9a9', ORANGE = 'rgba(246,168,40,0.8)', LGREEN = 'rgba(150,234,150,0.8)';
var BLACK = '#111111', RED = '#f42a10', DGREEN = '#1f8a1f';

function rangeBars(gi, lo, hi, color, width, shift) {
  return {
    type: 'custom', xAxisIndex: gi, yAxisIndex: gi, clip: true, silent: true,
    data: lo.map(function (v, i) { return [i, v, hi[i]]; }),
    encode: { x: 0, y: [1, 2] },
    renderItem: function (params, api) {
      var a = api.coord([api.value(0), api.value(1)]);
      var b = api.coord([api.value(0), api.value(2)]);
      return { type: 'rect', shape: { x: a[0] - width / 2 + shift, y: b[1], width: width, height: a[1] - b[1] }, style: { fill: color } };
    }
  };
}
function meanLine(gi, vals, color) {
  return {
    type: 'line', xAxisIndex: gi, yAxisIndex: gi, silent: true, showSymbol: false, symbol: 'none', z: 5,
    data: vals.map(function (v, i) { return [i, v]; }),
    lineStyle: { color: color, width: 1.2 }, itemStyle: { color: color }
  };
}
function xAxisFor(gi) {
  return {
    type: 'value', gridIndex: gi, min: -15.12, max: 381.8,
    axisLine: { show: true, onZero: false, lineStyle: { color: '#222', width: 1 } },
    axisTick: { show: true, customValues: monthStarts, length: 7, lineStyle: { color: '#222' } },
    axisLabel: { customValues: monthStarts, fontSize: 15, color: '#111', margin: 17, fontFamily: FONT,
      formatter: function (v) { return monthLabels[monthStarts.indexOf(v)]; } },
    splitLine: { show: false },
    name: 'Date', nameLocation: 'middle', nameGap: 49,
    nameTextStyle: { fontSize: 15, color: '#111', fontFamily: FONT }
  };
}
function yAxisFor(gi, min, max, ticks) {
  return {
    type: 'value', gridIndex: gi, min: min, max: max,
    axisLine: { show: true, onZero: false, lineStyle: { color: '#222', width: 1 } },
    axisTick: { show: true, customValues: ticks, length: 7, lineStyle: { color: '#222' } },
    axisLabel: { customValues: ticks, rotate: 90, fontSize: 15, color: '#111', margin: 12, fontFamily: FONT },
    splitLine: { show: false },
    name: 'NO2 ( ppb )', nameLocation: 'middle', nameGap: 44, nameRotate: 90,
    nameTextStyle: { fontSize: 15, color: '#111', fontFamily: FONT }
  };
}

function panelGraphics(top, tag, site, stats) {
  var els = [];
  els.push({ type: 'text', x: 22, y: top - 13, z: 100, style: { text: tag, font: 'bold 30px ' + FONT, fill: '#000', align: 'center', verticalAlign: 'middle' } });
  els.push({ type: 'text', x: 650, y: top - 21, z: 100, style: { text: 'NO2 \u2013 AirBase daily mean for 20060101 20061231', font: 'bold 15px ' + FONT, fill: '#000', align: 'center', verticalAlign: 'middle' } });
  els.push({ type: 'text', x: 470, y: top + 20, z: 100, style: { text: site, font: '15px ' + FONT, fill: '#111', align: 'left', verticalAlign: 'middle' } });
  var statColors = ['#111', '#ee1c1c', '#1f7f1f'];
  stats.forEach(function (s, k) {
    els.push({ type: 'text', x: 866, y: top + 10 + 18.5 * k, z: 100, style: { text: s, font: '15px ' + FONT, fill: statColors[k], align: 'left', verticalAlign: 'middle' } });
  });
  // legend box (transparent, like the R legend)
  var lt = top + 7;
  els.push({ type: 'rect', z: 100, shape: { x: 119.5, y: lt + 0.5, width: 204, height: 57 }, style: { fill: 'none', stroke: '#333', lineWidth: 1 } });
  var boxes = ['#9a9a9a', '#f5a300', '#90ee90'];
  var lines = [BLACK, RED, DGREEN];
  legendNames.forEach(function (n, k) {
    var cy = lt + 14 + 14 * k;
    els.push({ type: 'line', z: 100, shape: { x1: 138, y1: cy, x2: 160, y2: cy }, style: { stroke: lines[k], lineWidth: 1.2 } });
    els.push({ type: 'rect', z: 101, shape: { x: 130.5, y: cy - 3.5, width: 8, height: 7 }, style: { fill: boxes[k], stroke: '#333', lineWidth: 1 } });
    els.push({ type: 'text', x: 170, y: cy, z: 100, style: { text: n, font: '12.5px ' + FONT, fill: '#111', align: 'left', verticalAlign: 'middle' } });
  });
  return els;
}

var chart = echarts.init(document.getElementById('main'), null, { renderer: 'canvas' });
chart.setOption({
  animation: false,
  backgroundColor: '#fff',
  textStyle: { fontFamily: FONT },
  grid: [
    { left: 75, top: 40, width: 1155, height: 197, show: true, borderColor: '#222', borderWidth: 1, backgroundColor: 'transparent' },
    { left: 75, top: 357, width: 1155, height: 196, show: true, borderColor: '#222', borderWidth: 1, backgroundColor: 'transparent' }
  ],
  xAxis: [xAxisFor(0), xAxisFor(1)],
  yAxis: [yAxisFor(0, -2.1, 53.7, yTicksA), yAxisFor(1, -1.94, 45.58, yTicksB)],
  series: [
    rangeBars(0, obsLowA, obsHighA, GRAY, 2.1, 0),
    rangeBars(0, camxLowA, camxHighA, ORANGE, 1.1, -0.6),
    rangeBars(0, chimLowA, chimHighA, LGREEN, 1.2, 0.7),
    meanLine(0, obsMeanA, BLACK),
    meanLine(0, camxMeanA, RED),
    meanLine(0, chimMeanA, DGREEN),
    rangeBars(1, obsLowB, obsHighB, GRAY, 2.1, 0),
    rangeBars(1, camxLowB, camxHighB, ORANGE, 1.1, -0.6),
    rangeBars(1, chimLowB, chimHighB, LGREEN, 1.2, 0.7),
    meanLine(1, obsMeanB, BLACK),
    meanLine(1, camxMeanB, RED),
    meanLine(1, chimMeanB, DGREEN)
  ],
  graphic: panelGraphics(40, 'a', 'Site:  SB stations (<700 m) of NWE ( 229 sites )', statsA)
    .concat(panelGraphics(357, 'b', 'Site:  SB stations (<700 m) of SE ( 81 sites )', statsB))
});
</script>
</body>
</html>
